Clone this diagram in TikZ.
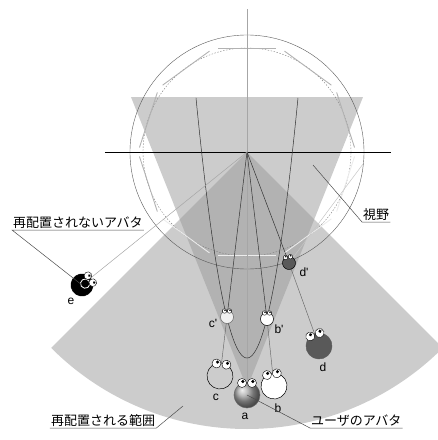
\documentclass[tikz,border=0pt]{standalone}
\usepackage{fontspec}
\setmainfont{Liberation Sans}
\newfontfamily\jpfont{Noto Sans CJK JP}
\usetikzlibrary{calc}

\definecolor{fanfill}{gray}{0.80}
\definecolor{overlapfill}{gray}{0.70}
\definecolor{darkbody}{gray}{0.35}

\tikzset{
  body/.style={circle, draw, minimum size=26pt, inner sep=0pt, line width=0.5pt},
  eye/.style={circle, draw, fill=white, minimum size=9pt, inner sep=0pt, line width=0.4pt},
  % avatar: body, optional extra drawing, two eyes looking up
  pics/critter/.style 2 args={code={
    \node[body, #1] (-body) at (0,0) {};
    #2
    \node[eye] (-leye) at (-5,12) {};
    \node[eye] (-reye) at (5,12) {};
    \fill (-4.1,13.5) circle (1.7);
    \fill (5.9,13.5) circle (1.7);
  }}
}

\begin{document}
\begin{tikzpicture}[x=1pt, y=1pt,
  ray/.style={black!80, line width=0.5pt},
  link/.style={black!60, line width=0.45pt},
  leader/.style={black!70, line width=0.5pt},
  rim/.style={line width=0.9pt},
  jp/.style={font=\jpfont\fontsize{13}{14}\selectfont, inner xsep=1pt, inner ysep=1.5pt},
  tag/.style={font=\fontsize{12}{13}\selectfont, inner sep=0pt}]
\useasboundingbox (-247,-288) rectangle (191,152);
\clip (-247,-288) rectangle (191,152);

% relocation range and field of view
\fill[fanfill] (0,0) -- (225:277) arc[start angle=225, end angle=315, radius=277] -- cycle;
\fill[fanfill] (-116,55) -- (116,55) -- (0,-236) -- cycle;
\begin{scope}
  \clip (0,0) -- (225:277) arc[start angle=225, end angle=315, radius=277] -- cycle;
  \fill[overlapfill] (-116,55) -- (116,55) -- (0,-236) -- cycle;
\end{scope}

% circles and the decagon
\draw[black!65, line width=0.4pt] (0,0) circle (117);
\draw[gray, line width=0.4pt, dash pattern=on 1.5pt off 1.5pt] (0,0) circle (104);
\foreach \k in {0,...,5}
  \draw[rim, gray!60] ($(\k*36:109)!0.07!(\k*36+36:109)$) -- ($(\k*36:109)!0.93!(\k*36+36:109)$);
\foreach \k in {6,...,9}
  \draw[rim, gray!15] ($(\k*36:109)!0.07!(\k*36+36:109)$) -- ($(\k*36:109)!0.93!(\k*36+36:109)$);

% positions
\coordinate (O) at (0,0);
\coordinate (a) at (0,-243);
\coordinate (b) at (27,-234);
\coordinate (c) at (-27,-224);
\coordinate (d) at (72,-194);
\coordinate (e) at (-165,-133);
\coordinate (cp) at (-20,-165);
\coordinate (bp) at (20,-167);
\coordinate (dp) at (42,-111);
\coordinate (dpend) at (116,-12);

% axes
\draw[black, line width=0.6pt] (-142,0) -- (144,0);
\draw[gray!70, line width=0.5pt] (0,143) -- (a);

% curve through the relocated places
\draw[ray] plot[domain=-51:51, samples=81, smooth] (\x, {-206+\x*\x/10});

% rays from the view point
\draw[ray] (O) -- (cp);
\draw[ray] (O) -- (bp);
\draw[ray] (O) -- (dp);
\draw[gray!70, line width=0.5pt] (O) -- (e);
\draw[link] (cp) -- (c);
\draw[link] (bp) -- (b);
\draw[link] (dp) -- (d);
\draw[gray!45, line width=0.5pt] (dp) -- (dpend);

% avatars
\pic[transform shape] (a) at (a) {critter={shading=ball, ball color=gray!70, draw=black!60}{}};
\pic[rotate=10, transform shape] (b) at (b) {critter={fill=white}{}};
\pic[rotate=-7, transform shape] (c) at (c) {critter={fill=fanfill}{}};
\pic[rotate=20, transform shape] (d) at (d) {critter={fill=darkbody, draw=darkbody}{}};
\pic[rotate=-55, scale=0.85, transform shape] (e) at (e)
  {critter={fill=black}{\draw[white, line width=0.8pt] (0.8,4) circle (5.5);}};
\pic[scale=0.5, transform shape] (cp) at (cp) {critter={fill=gray!12, draw=black!60}{}};
\pic[scale=0.5, transform shape] (bp) at (bp) {critter={fill=white}{}};
\pic[rotate=10, scale=0.5, transform shape] (dp) at (dp) {critter={fill=darkbody}{}};

% letters
\node[tag] (ta) at (-2,-264) {a};
\node[tag] (tb) at (31,-256) {b};
\node[tag] (tc) at (-31,-245) {c};
\node[tag] (td) at (76,-215) {d};
\node[tag] (te) at (-176,-149) {e};
\node[tag] (tcp) at (-34,-171) {c\textquotesingle};
\node[tag] (tbp) at (32,-177) {b\textquotesingle};
\node[tag] (tdp) at (57,-120) {d\textquotesingle};

% captions
\node[jp, anchor=south west] (fov) at (115,-70) {視野};
\coordinate (fovpt) at (66,-13);
\draw[leader] (fovpt) -- (fov.south west) -- (fov.south east);

\node[jp, anchor=south west] (keep) at (-235,-78) {再配置されないアバタ};
\draw[leader] (e) -- (keep.south west) -- (keep.south east);

\node[jp, anchor=south west] (range) at (-197,-276) {再配置される範囲};
\coordinate (rangept) at (-64,-254);
\draw[leader] (range.south west) -- (range.south east) -- (rangept);

\node[jp, anchor=south west] (user) at (63,-276) {ユーザのアバタ};
\draw[leader] (a-body.center) -- (user.south west) -- (user.south east);
\end{tikzpicture}
\end{document}
